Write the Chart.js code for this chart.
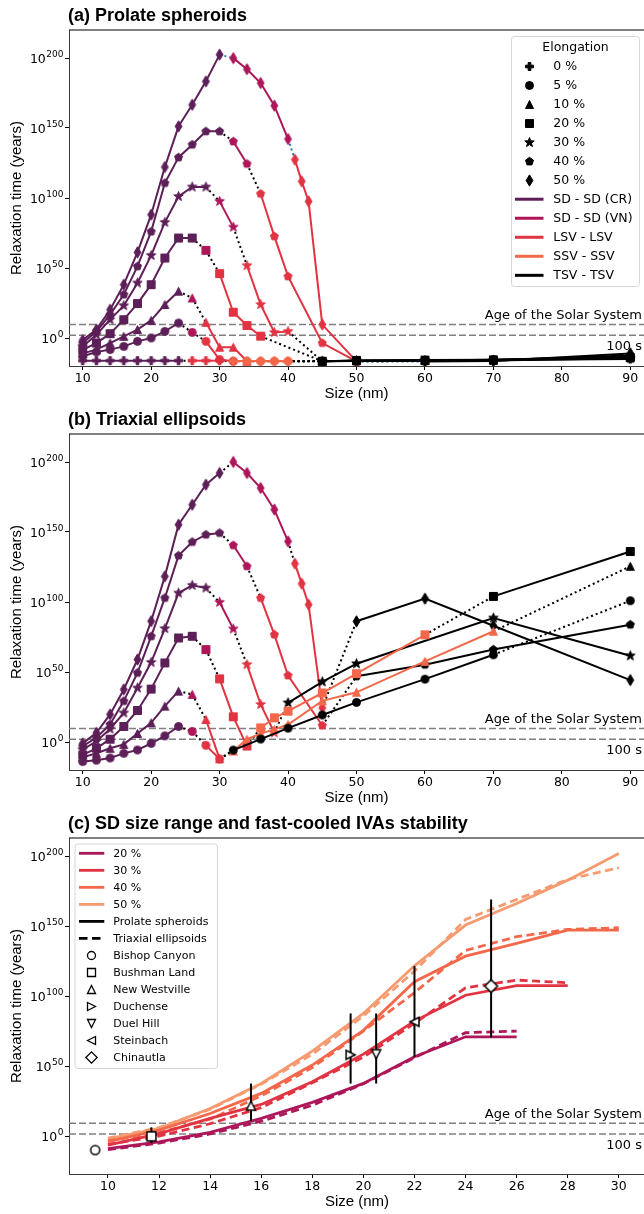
<!DOCTYPE html>
<html>
<head>
<meta charset="utf-8">
<script src="https://cdn.jsdelivr.net/npm/chart.js@4.4.1/dist/chart.umd.min.js"></script>
<style>
html, body { margin:0; padding:0; background:#fff; }
body { width:644px; height:1214px; overflow:hidden; position:relative; }
canvas { position:absolute; left:0; }
</style>
</head>
<body>
<canvas id="chartA" width="650" height="404" style="top:0px"></canvas>
<canvas id="chartB" width="650" height="404" style="top:404px"></canvas>
<canvas id="chartC" width="650" height="404" style="top:808px"></canvas>
<script>
// ================= DATA (values are log10 of relaxation time in years) =================
// ---- (a) Prolate spheroids ----
const A_E0_SIZE = [10,12,14,16,18,20,22,24,26,28,30,32,34,36,38,40,45,50,60,70,90];
const A_E0_VAL  = [-16.2,-16.2,-16.2,-16.2,-16.2,-16.2,-16.2,-16.2,-16.2,-16.2,-16.2,-16.5,-16.5,-16.5,-16.5,-16.5,-16.6,-16.2,-16,-15.8,-15];
const A_E0_REG  = ['CR','CR','CR','CR','CR','CR','CR','CR','LSV','LSV','LSV','SSV','SSV','SSV','SSV','SSV','TSV','TSV','TSV','TSV','TSV'];

const A_E5_SIZE = [10,12,14,16,18,20,22,24,26,28,30,32,34,36,38,40,50,60,70,90];
const A_E5_VAL  = [-13,-10,-8.3,-6,-2.4,0,4.7,10.7,4,-2.4,-15.4,-16.6,-16.6,-16.6,-16.6,-16.6,-16.3,-16,-15.6,-13.5];
const A_E5_REG  = ['CR','CR','CR','CR','CR','CR','CR','CR','VN','LSV','LSV','LSV','SSV','SSV','SSV','SSV','TSV','TSV','TSV','TSV'];

const A_E10_SIZE = [10,12,14,16,18,20,22,24,26,28,30,32,34,45,50,60,70,90];
const A_E10_VAL  = [-11,-8.3,-3.6,1.2,6,12.6,23.9,33.4,28.6,11.2,-6.6,-6.6,-16.6,-16.6,-16.2,-16,-15.8,-12.5];
const A_E10_REG  = ['CR','CR','CR','CR','CR','CR','CR','CR','VN','LSV','LSV','LSV','LSV','TSV','TSV','TSV','TSV','TSV'];

const A_E20_SIZE = [10,12,14,16,18,20,22,24,26,28,30,32,34,36,45,50,60,70,90];
const A_E20_VAL  = [-8.5,-3.6,3.1,13.1,24.6,38.1,57.1,71.4,71.4,62.6,46,18.4,8.9,1.3,-16.6,-16,-15.8,-15.6,-14];
const A_E20_REG  = ['CR','CR','CR','CR','CR','CR','CR','CR','CR','VN','LSV','LSV','LSV','LSV','TSV','TSV','TSV','TSV','TSV'];

const A_E30_SIZE = [10,12,14,16,18,20,22,24,26,28,30,32,34,36,38,40,45,50,60,70,90];
const A_E30_VAL  = [-6,2.3,13.1,23.1,39.3,59,82.6,101.1,107.9,107.9,97.6,79.2,51.7,23.9,4,4.7,-16.6,-16.4,-16.2,-16,-14.5];
const A_E30_REG  = ['CR','CR','CR','CR','CR','CR','CR','CR','CR','CR','VN','VN','LSV','LSV','LSV','LSV','TSV','TSV','TSV','TSV','TSV'];

const A_E40_SIZE = [10,12,14,16,18,20,22,24,26,28,30,32,34,36,38,40,45,50,60,70,90];
const A_E40_VAL  = [-3.5,4.7,16.6,31,51.2,76,110.7,129,138.1,147.6,147.6,140.4,124.4,103,72.6,44,-3.6,-16.7,-16.3,-16,-13];
const A_E40_REG  = ['CR','CR','CR','CR','CR','CR','CR','CR','CR','CR','CR','VN','VN','LSV','LSV','LSV','LSV','LSV','TSV','TSV','TSV'];

const A_E50_SIZE = [10,12,14,16,18,20,22,24,26,28,30,32,34,36,38,40,41,42,43,45,50,60,70,90];
const A_E50_VAL  = [-1.5,6,20.2,38.1,61.2,88.1,122.1,151.2,166.6,183.3,202.4,199.9,192,182.1,165.9,142.1,127.4,111.9,97.6,9.6,-16.7,-16.8,-16.5,-11];
const A_E50_REG  = ['CR','CR','CR','CR','CR','CR','CR','CR','CR','CR','CR','VN','VN','VN','VN','VN','LSV','LSV','LSV','LSV','LSV','TSV','TSV','TSV'];

// ---- (b) Triaxial ellipsoids ----
const B_E5_SIZE = [10,12,14,16,18,20,22,24,26,28,30,32,36,40,45,50,60,70,90];
const B_E5_VAL  = [-14,-13,-11.4,-8.1,-5.7,-1,4.4,11.1,7.5,-2.4,-12.1,-5.8,2.1,9.9,19.3,28.3,44.9,62.3,100.9];
const B_E5_REG  = ['CR','CR','CR','CR','CR','CR','CR','CR','VN','LSV','LSV','TSV','TSV','TSV','TSV','TSV','TSV','TSV','TSV+'];

const B_E10_SIZE = [10,12,14,16,18,20,22,24,26,28,30,32,34,36,38,40,45,50,60,70,90];
const B_E10_VAL  = [-11,-8,-4.5,-1.7,6.1,13.7,25.6,36.3,34,16.1,-12,-6.5,2,6,9,12.5,29.4,35.5,57.6,79.1,125.5];
const B_E10_REG  = ['CR','CR','CR','CR','CR','CR','CR','CR','VN','LSV','LSV','SSV','SSV','SSV','SSV','SSV','SSV','SSV','SSV','SSV','TSV'];

const B_E20_SIZE = [10,12,14,16,18,20,22,24,26,28,30,32,34,36,38,40,45,50,60,70,90];
const B_E20_VAL  = [-9.2,-4.5,2,11.1,22.5,37.8,56.5,74.3,75.5,66,45.1,18,-2.9,10.1,17.3,22,35,48.8,76.6,104,136.1];
const B_E20_REG  = ['CR','CR','CR','CR','CR','CR','CR','CR','CR','VN','LSV','LSV','LSV','SSV','SSV','SSV','SSV','SSV','SSV','TSV','TSV'];

const B_E30_SIZE = [10,12,14,16,18,20,22,24,26,28,30,32,34,36,38,40,45,50,70,90];
const B_E30_VAL  = [-5.5,0.5,9.3,20.8,38.6,56.9,81,106.4,111.9,110,99.8,80.8,55.3,26.8,6.6,28,43,55.9,88.6,61.6];
const B_E30_REG  = ['CR','CR','CR','CR','CR','CR','CR','CR','CR','CR','VN','VN','LSV','LSV','LSV','TSV','TSV','TSV','TSV','TSV'];

const B_E40_SIZE = [10,12,14,16,18,20,22,24,26,28,30,32,34,36,38,40,45,50,60,70,90];
const B_E40_VAL  = [-3,3,12.5,29.2,49.4,75.5,102.9,133.1,142.9,148.1,149.3,140.5,125.5,102.9,76.7,47.5,11.8,46.9,55.2,66,83.8];
const B_E40_REG  = ['CR','CR','CR','CR','CR','CR','CR','CR','CR','CR','CR','VN','VN','LSV','LSV','LSV','LSV','TSV','TSV','TSV','TSV'];

const B_E50_SIZE = [10,12,14,16,18,20,22,24,26,28,30,32,34,36,38,40,41,42,43,45,50,60,70,90];
const B_E50_VAL  = [-1,6.6,19.7,37.5,58.9,86.3,118.3,155.2,169.5,183.8,192.1,200,192.1,181.4,166,143.3,127.4,113.1,98.1,24.4,86.2,102.4,83,44.2];
const B_E50_REG  = ['CR','CR','CR','CR','CR','CR','CR','CR','CR','CR','CR','VN','VN','VN','VN','VN','LSV','LSV','LSV','LSV','TSV','TSV','TSV','TSV'];

// ---- (c) meteorites (SD size and estimated relaxation time with range) ----
const MET_NAMES = ['Bishop Canyon','Bushman Land','New Westville','Duchense','Duel Hill','Steinbach','Chinautla'];
const MET_SIZE  = [9.5, 11.7, 15.6, 19.5, 20.5, 22.0, 25.0];
const MET_VAL   = [-9.5, 0.3, 22.2, 58.5, 59.0, 82.1, 107.6];
const MET_LOW   = [null, -4.5, 11.2, 38.0, 38.0, 57.1, 71.0];
const MET_HIGH  = [null, 6.7, 38.0, 88.1, 88.1, 121.9, 169.5];

// Reference lines
const REF_VALUES = [9.65, 2.0];
const REF_LABELS = ['Age of the Solar System', '100 s'];

// Axis ticks
const TICKS_Y = [0, 50, 100, 150, 200];
const TICKS_X_AB = [10, 20, 30, 40, 50, 60, 70, 80, 90];
const TICKS_X_C = [10, 12, 14, 16, 18, 20, 22, 24, 26, 28, 30];

// ================= STYLE =================
const REGIME_COLOR = {CR:'#5c1f57', VN:'#ad1759', LSV:'#e13342', SSV:'#f3684a', TSV:'#000000', 'TSV+':'#000000'};
const C_COLOR = {20:'#ad1759', 30:'#e13342', 40:'#f3684a', 50:'#f69a70'};
const MET_SHAPES = ['o','s','^','>','v','<','D'];
const FONT_TXT = '"DejaVu Sans", sans-serif';
const FONT_AX = '"Liberation Sans", Arial, sans-serif';
const MS = 8;

// ================= MARKERS =================
function shapePath(ctx, shape, s) {
  const r = s / 2;
  ctx.beginPath();
  const poly = pts => { pts.forEach((p, i) => i ? ctx.lineTo(p[0], p[1]) : ctx.moveTo(p[0], p[1])); ctx.closePath(); };
  switch (shape) {
    case 'o': ctx.arc(0, 0, r, 0, Math.PI * 2); break;
    case 's': ctx.rect(-r, -r, s, s); break;
    case '^': poly([[0,-r],[r,r],[-r,r]]); break;
    case 'v': poly([[0,r],[r,-r],[-r,-r]]); break;
    case '>': poly([[r,0],[-r,r],[-r,-r]]); break;
    case '<': poly([[-r,0],[r,-r],[r,r]]); break;
    case 'D': { const h = r * 1.414; poly([[0,-h],[h,0],[0,h],[-h,0]]); break; }
    case 'd': { const h = r * 1.414, w = h * 0.6; poly([[0,-h],[w,0],[0,h],[-w,0]]); break; }
    case 'p': { const p = []; for (let i = 0; i < 5; i++) { const a = -Math.PI/2 + i*2*Math.PI/5; p.push([r*Math.cos(a)*1.05, r*Math.sin(a)*1.05]); } poly(p); break; }
    case '*': { const p = []; for (let i = 0; i < 10; i++) { const a = -Math.PI/2 + i*Math.PI/5; const rr = (i % 2 ? 0.42 : 1) * r * 1.25; p.push([rr*Math.cos(a), rr*Math.sin(a)]); } poly(p); break; }
    case 'P': { const t = s / 6; poly([[-t,-r],[t,-r],[t,-t],[r,-t],[r,t],[t,t],[t,r],[-t,r],[-t,t],[-r,t],[-r,-t],[-t,-t]]); break; }
  }
}
const markerCache = {};
function marker(shape, fill, stroke, size, lw) {
  const key = [shape, fill, stroke, size, lw].join('|');
  if (markerCache[key]) return markerCache[key];
  const dim = Math.ceil(size * 1.7 + lw + 4);
  const c = document.createElement('canvas');
  c.width = dim; c.height = dim;
  const ctx = c.getContext('2d');
  ctx.translate(dim / 2, dim / 2);
  shapePath(ctx, shape, size);
  ctx.fillStyle = fill; ctx.fill();
  if (lw > 0) { ctx.lineWidth = lw; ctx.strokeStyle = stroke; ctx.lineJoin = 'miter'; ctx.stroke(); }
  markerCache[key] = c;
  return c;
}

// ================= DATASET BUILDERS =================
function buildSeries(sizes, vals, regs, shape, transColor) {
  const groups = [];
  for (let i = 0; i < sizes.length; i++) {
    if (i === 0 || regs[i] !== regs[i - 1]) groups.push({reg: regs[i], pts: []});
    groups[groups.length - 1].pts.push({x: sizes[i], y: vals[i]});
  }
  const out = [];
  groups.forEach((g, gi) => {
    if (gi > 0) {
      const prev = groups[gi - 1].pts[groups[gi - 1].pts.length - 1];
      out.push({data: [prev, g.pts[0]], borderColor: transColor, borderWidth: 2, borderDash: [2, 3], pointRadius: 0, order: 3});
    }
    const col = REGIME_COLOR[g.reg];
    out.push({data: g.pts, borderColor: col, borderWidth: 2, pointStyle: marker(shape, col, col, MS, 1), pointRadius: 4, order: 2});
  });
  return out;
}
function refLineDatasets(xmin, xmax) {
  return REF_VALUES.map(v => ({data: [{x: xmin, y: v}, {x: xmax, y: v}], borderColor: '#808080', borderWidth: 1.5, borderDash: [7, 3], pointRadius: 0, order: 5}));
}
function crPoints(sizes, vals, regs) {
  const pts = [];
  sizes.forEach((s, i) => { if (regs[i] === 'CR') pts.push({x: s, y: vals[i]}); });
  return pts;
}

// ================= AXES / OPTIONS =================
function makeOptions(xr, yr, xticks) {
  return {
    animation: false, responsive: false, events: [],
    layout: {padding: {top: 30, right: 4.6, left: 0, bottom: 0}},
    plugins: {legend: {display: false}, tooltip: {enabled: false}, title: {display: false}},
    scales: {
      x: {
        type: 'linear', min: xr[0], max: xr[1],
        afterBuildTicks: s => { s.ticks = xticks.map(v => ({value: v})); },
        afterFit: s => { s.height = 38; },
        grid: {drawOnChartArea: false, drawTicks: true, tickLength: 4, color: '#000', lineWidth: 1},
        border: {display: true, color: '#3a3a3a', width: 1},
        ticks: {font: {family: FONT_TXT, size: 12.5}, color: '#000', padding: 1, maxRotation: 0, autoSkip: false},
        title: {display: true, text: 'Size (nm)', font: {family: FONT_AX, size: 15}, color: '#000', padding: {top: 0, bottom: 1}}
      },
      y: {
        type: 'linear', min: yr[0], max: yr[1],
        afterBuildTicks: s => { s.ticks = TICKS_Y.map(v => ({value: v})); },
        afterFit: s => { s.width = 69; },
        grid: {drawOnChartArea: false, drawTicks: true, tickLength: 4, color: '#000', lineWidth: 1},
        border: {display: true, color: '#3a3a3a', width: 1},
        ticks: {display: false},
        title: {display: true, text: 'Relaxation time (years)', font: {family: FONT_AX, size: 15}, color: '#000', padding: {top: 8, bottom: 0}}
      }
    }
  };
}

function roundRect(ctx, x, y, w, h, r) {
  ctx.beginPath();
  ctx.moveTo(x + r, y); ctx.lineTo(x + w - r, y); ctx.arcTo(x + w, y, x + w, y + r, r);
  ctx.lineTo(x + w, y + h - r); ctx.arcTo(x + w, y + h, x + w - r, y + h, r);
  ctx.lineTo(x + r, y + h); ctx.arcTo(x, y + h, x, y + h - r, r);
  ctx.lineTo(x, y + r); ctx.arcTo(x, y, x + r, y, r); ctx.closePath();
}
function drawLegend(ctx, L) {
  ctx.save();
  roundRect(ctx, L.x, L.y, L.w, L.h, 3);
  ctx.fillStyle = 'rgba(255,255,255,0.85)'; ctx.fill();
  ctx.strokeStyle = '#d6d6d6'; ctx.lineWidth = 1; ctx.stroke();
  ctx.font = L.font; ctx.fillStyle = '#000'; ctx.textBaseline = 'middle';
  if (L.title) { ctx.textAlign = 'center'; ctx.fillText(L.title, L.x + L.w / 2, L.titleY); }
  ctx.textAlign = 'left';
  L.items.forEach((it, i) => {
    const yy = L.row0 + i * L.step;
    if (it.color) {
      ctx.save(); ctx.strokeStyle = it.color; ctx.lineWidth = it.lw; ctx.setLineDash(it.dash || []);
      ctx.beginPath(); ctx.moveTo(L.lineX0, yy); ctx.lineTo(L.lineX1, yy); ctx.stroke(); ctx.restore();
    }
    if (it.img) ctx.drawImage(it.img, Math.round(L.markerX - it.img.width / 2), Math.round(yy - it.img.height / 2));
    ctx.fillStyle = '#000';
    ctx.fillText(it.text, L.textX, yy + 0.5);
  });
  ctx.restore();
}
// y tick labels drawn as "10" with a raised exponent
function drawYTickLabels(ctx, y) {
  ctx.save();
  ctx.fillStyle = '#000';
  ctx.textBaseline = 'alphabetic';
  TICKS_Y.forEach(v => {
    const py = y.getPixelForValue(v);
    const exp = String(v);
    ctx.font = '9px ' + FONT_TXT;
    const ew = ctx.measureText(exp).width;
    const ex = 63.5 - ew;
    ctx.textAlign = 'left';
    ctx.fillText(exp, ex, py - 1.5);
    ctx.font = '12.5px ' + FONT_TXT;
    ctx.textAlign = 'right';
    ctx.fillText('10', ex - 0.5, py + 4.5);
  });
  ctx.restore();
}
function decorPlugin(key, title, legend) {
  return {
    id: 'decor' + key,
    afterDraw(chart) {
      const {ctx, chartArea: a, scales: {y}} = chart;
      ctx.save();
      ctx.strokeStyle = '#000'; ctx.lineWidth = 1.2;
      ctx.beginPath(); ctx.moveTo(a.left, a.top); ctx.lineTo(a.right, a.top); ctx.stroke();
      ctx.font = 'bold 18px ' + FONT_AX; ctx.fillStyle = '#000'; ctx.textAlign = 'left'; ctx.textBaseline = 'alphabetic';
      ctx.fillText(title, a.left - 1, a.top - 9);
      ctx.font = '13px ' + FONT_TXT; ctx.textAlign = 'right';
      ctx.fillText(REF_LABELS[0], 642, y.getPixelForValue(REF_VALUES[0]) - 5);
      ctx.fillText(REF_LABELS[1], 642, y.getPixelForValue(REF_VALUES[1]) + 15);
      ctx.restore();
      drawYTickLabels(ctx, y);
      if (legend) drawLegend(ctx, legend);
    }
  };
}

// ================= PANEL (a) =================
const X_AB = [8, 92];
const Y_AB = [-20, 220];
const A_SERIES = [
  [A_E0_SIZE, A_E0_VAL, A_E0_REG, 'P', '#000'],
  [A_E5_SIZE, A_E5_VAL, A_E5_REG, 'o', '#000'],
  [A_E10_SIZE, A_E10_VAL, A_E10_REG, '^', '#000'],
  [A_E20_SIZE, A_E20_VAL, A_E20_REG, 's', '#000'],
  [A_E30_SIZE, A_E30_VAL, A_E30_REG, '*', '#000'],
  [A_E40_SIZE, A_E40_VAL, A_E40_REG, 'p', '#000'],
  [A_E50_SIZE, A_E50_VAL, A_E50_REG, 'd', '#1f77b4']
];
let dsA = [];
A_SERIES.forEach(s => { dsA = dsA.concat(buildSeries(...s)); });
dsA = dsA.concat(refLineDatasets(X_AB[0], X_AB[1]));

const legendA = {
  x: 511.5, y: 36.5, w: 128, h: 250, title: 'Elongation', titleY: 47.5,
  row0: 66, step: 19.03, lineX0: 515, lineX1: 543.5, markerX: 529.3, textX: 553.3,
  font: '12.5px ' + FONT_TXT,
  items: [
    {img: marker('P', '#000', '#000', MS, 1), text: '0 %'},
    {img: marker('o', '#000', '#000', MS, 1), text: '5 %'},
    {img: marker('^', '#000', '#000', MS, 1), text: '10 %'},
    {img: marker('s', '#000', '#000', MS, 1), text: '20 %'},
    {img: marker('*', '#000', '#000', MS, 1), text: '30 %'},
    {img: marker('p', '#000', '#000', MS, 1), text: '40 %'},
    {img: marker('d', '#000', '#000', MS, 1), text: '50 %'},
    {color: REGIME_COLOR.CR, lw: 3, text: 'SD - SD (CR)'},
    {color: REGIME_COLOR.VN, lw: 3, text: 'SD - SD (VN)'},
    {color: REGIME_COLOR.LSV, lw: 3, text: 'LSV - LSV'},
    {color: REGIME_COLOR.SSV, lw: 3, text: 'SSV - SSV'},
    {color: REGIME_COLOR.TSV, lw: 3, text: 'TSV - TSV'}
  ]
};
new Chart(document.getElementById('chartA'), {
  type: 'line', data: {datasets: dsA},
  options: makeOptions(X_AB, Y_AB, TICKS_X_AB),
  plugins: [decorPlugin('A', '(a) Prolate spheroids', legendA)]
});

// ================= PANEL (b) =================
const B_SERIES = [
  [B_E5_SIZE, B_E5_VAL, B_E5_REG, 'o', '#000'],
  [B_E10_SIZE, B_E10_VAL, B_E10_REG, '^', '#000'],
  [B_E20_SIZE, B_E20_VAL, B_E20_REG, 's', '#000'],
  [B_E30_SIZE, B_E30_VAL, B_E30_REG, '*', '#000'],
  [B_E40_SIZE, B_E40_VAL, B_E40_REG, 'p', '#000'],
  [B_E50_SIZE, B_E50_VAL, B_E50_REG, 'd', '#000']
];
let dsB = [];
B_SERIES.forEach(s => { dsB = dsB.concat(buildSeries(...s)); });
dsB = dsB.concat(refLineDatasets(X_AB[0], X_AB[1]));
new Chart(document.getElementById('chartB'), {
  type: 'line', data: {datasets: dsB},
  options: makeOptions(X_AB, Y_AB, TICKS_X_AB),
  plugins: [decorPlugin('B', '(b) Triaxial ellipsoids', null)]
});

// ================= PANEL (c) =================
const X_C = [8.475, 31.025];
const Y_C = [-26.6, 213.4];
const C_PROLATE = {20: crPoints(A_E20_SIZE, A_E20_VAL, A_E20_REG), 30: crPoints(A_E30_SIZE, A_E30_VAL, A_E30_REG),
                   40: crPoints(A_E40_SIZE, A_E40_VAL, A_E40_REG), 50: crPoints(A_E50_SIZE, A_E50_VAL, A_E50_REG)};
const C_TRIAXIAL = {20: crPoints(B_E20_SIZE, B_E20_VAL, B_E20_REG), 30: crPoints(B_E30_SIZE, B_E30_VAL, B_E30_REG),
                    40: crPoints(B_E40_SIZE, B_E40_VAL, B_E40_REG), 50: crPoints(B_E50_SIZE, B_E50_VAL, B_E50_REG)};
let dsC = [];
[20, 30, 40, 50].forEach(e => {
  dsC.push({data: C_PROLATE[e], borderColor: C_COLOR[e], borderWidth: 2.8, pointRadius: 0, order: 4});
  dsC.push({data: C_TRIAXIAL[e], borderColor: C_COLOR[e], borderWidth: 2.8, borderDash: [8, 4.5], pointRadius: 0, order: 4});
});
MET_NAMES.forEach((n, i) => {
  if (MET_LOW[i] !== null) dsC.push({data: [{x: MET_SIZE[i], y: MET_LOW[i]}, {x: MET_SIZE[i], y: MET_HIGH[i]}], borderColor: '#000', borderWidth: 2, pointRadius: 0, order: 2});
  dsC.push({data: [{x: MET_SIZE[i], y: MET_VAL[i]}], showLine: false, pointStyle: marker(MET_SHAPES[i], '#fff', '#000', 9, 1.5), pointRadius: 4, order: 1});
});
dsC = dsC.concat(refLineDatasets(X_C[0], X_C[1]));
const legendC = {
  x: 75, y: 36, w: 142.5, h: 224.5, title: null, titleY: 0,
  row0: 45.3, step: 17.02, lineX0: 79, lineX1: 104.3, markerX: 91.7, textX: 113.3,
  font: '11px ' + FONT_TXT,
  items: [
    {color: C_COLOR[20], lw: 2.8, text: '20 %'},
    {color: C_COLOR[30], lw: 2.8, text: '30 %'},
    {color: C_COLOR[40], lw: 2.8, text: '40 %'},
    {color: C_COLOR[50], lw: 2.8, text: '50 %'},
    {color: '#000', lw: 2.8, text: 'Prolate spheroids'},
    {color: '#000', lw: 2.8, dash: [8.5, 4.5], text: 'Triaxial ellipsoids'}
  ].concat(MET_NAMES.map((n, i) => ({img: marker(MET_SHAPES[i], '#fff', '#000', 8, 1.3), text: n})))
};
new Chart(document.getElementById('chartC'), {
  type: 'line', data: {datasets: dsC},
  options: makeOptions(X_C, Y_C, TICKS_X_C),
  plugins: [decorPlugin('C', '(c) SD size range and fast-cooled IVAs stability', legendC)]
});
</script>
</body>
</html>
